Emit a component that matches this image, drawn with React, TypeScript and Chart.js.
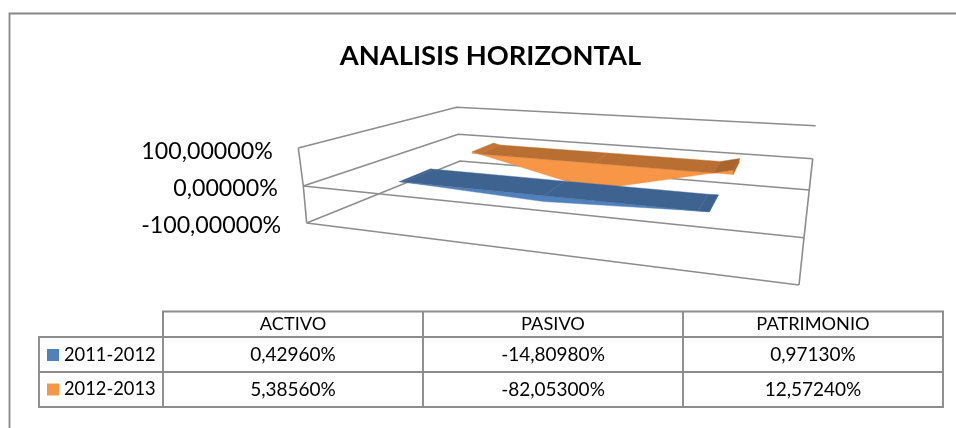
import React, { useEffect, useRef } from "react";
import { Chart, registerables } from "chart.js";

Chart.register(...registerables);

const categories = ["ACTIVO", "PASIVO", "PATRIMONIO"];
const seriesNames = ["2011-2012", "2012-2013"];
const values2011 = [0.4296, -14.8098, 0.9713];
const values2012 = [5.3856, -82.053, 12.5724];
const axisMin = -100;
const axisMax = 100;
const axisStep = 100;

const FONT = "Lato";
const GRID = "#8c8c8c";
const lightColors = ["#4F81BD", "#F79646"];
const topColors = ["#3E6391", "#B96F32"];
const foldColors = ["#3D618F", "#A9652D"];
const fallColors = ["#3F6493", "#C47635"];

// Camera: where the corners of the 3D box land (front-left, front-right, back-right, back-left)
type P = [number, number];
const planeHigh: P[] = [[298.3, 148], [809, 190.4], [815.7, 125.7], [456.7, 107.3]];
const planeZero: P[] = [[303.3, 186], [804, 237.7], [812.7, 158.7], [458.3, 134.3]];
const planeLow: P[] = [[306.7, 223], [799, 285], [809.3, 190], [460, 161]];
// Extent of each series inside the box: along the categories and in depth
const seriesX = [[0.137, 0.795], [0.145, 0.805]];
const seriesZ = [[0.205, 0.435], [0.72, 0.88]];
const foreshorten = 1.15;

const pct = (v: number) => v.toFixed(5).replace(".", ",") + "%";

function bilerp(pl: P[], x: number, z: number): P {
  const fx = pl[0][0] + (pl[1][0] - pl[0][0]) * x;
  const fy = pl[0][1] + (pl[1][1] - pl[0][1]) * x;
  const bx = pl[3][0] + (pl[2][0] - pl[3][0]) * x;
  const by = pl[3][1] + (pl[2][1] - pl[3][1]) * x;
  return [fx + (bx - fx) * z, fy + (by - fy) * z];
}

function project(x: number, z: number, h: number): P {
  const a = h >= 0.5 ? planeZero : planeLow;
  const b = h >= 0.5 ? planeHigh : planeZero;
  const s = h >= 0.5 ? (h - 0.5) * 2 : h * 2;
  const pa = bilerp(a, x, z);
  const pb = bilerp(b, x, z);
  return [pa[0] + (pb[0] - pa[0]) * s, pa[1] + (pb[1] - pa[1]) * s];
}

function poly(ctx: CanvasRenderingContext2D, pts: P[], color: string) {
  ctx.beginPath();
  pts.forEach((p, i) => (i ? ctx.lineTo(p[0], p[1]) : ctx.moveTo(p[0], p[1])));
  ctx.closePath();
  ctx.fillStyle = color;
  ctx.strokeStyle = color;
  ctx.lineWidth = 0.4;
  ctx.fill();
  ctx.stroke();
}

function line(ctx: CanvasRenderingContext2D, pts: P[]) {
  ctx.beginPath();
  pts.forEach((p, i) => (i ? ctx.lineTo(p[0], p[1]) : ctx.moveTo(p[0], p[1])));
  ctx.stroke();
}

const drawBox = (chart: any) => {
  const ctx = chart.ctx as CanvasRenderingContext2D;
  ctx.save();
  ctx.strokeStyle = "#868686";
  ctx.lineWidth = 1.8;
  line(ctx, [[9.5, 428], [9.5, 13.5], [956, 13.5]]);
  ctx.strokeStyle = GRID;
  ctx.lineWidth = 1.6;
  for (const pl of [planeHigh, planeZero, planeLow]) line(ctx, [pl[0], pl[3], pl[2]]);
  line(ctx, [planeHigh[0], planeZero[0], planeLow[0]]);
  line(ctx, [planeZero[0], planeZero[1]]);
  line(ctx, [planeLow[0], planeLow[1]]);
  line(ctx, [planeZero[2], planeZero[1], planeLow[1]]);
  // value axis labels
  const yS = chart.scales.y;
  ctx.fillStyle = "#000";
  ctx.font = `23.2px ${FONT}`;
  ctx.textAlign = "right";
  ctx.textBaseline = "middle";
  yS.ticks.forEach((tick: any) => {
    const py = yS.getPixelForValue(tick.value);
    const h = (chart.chartArea.bottom - py) / chart.chartArea.height;
    const corner = project(0, 0, h);
    ctx.fillText(pct(tick.value), corner[0] - 25.5, py + 1.5);
  });
  ctx.restore();
};

const drawSeries = (chart: any, i: number) => {
  const ctx = chart.ctx as CanvasRenderingContext2D;
  const { left, width, bottom, height } = chart.chartArea;
  const base = (bottom - chart.scales.y.getPixelForValue(0)) / height;
  const [x0, x1] = seriesX[i];
  const [z0, z1] = seriesZ[i];
  const mapX = (t: number) => {
    const u = (t - 1 / 6) / (2 / 3);
    return x0 + (x1 - x0) * (u / (u + foreshorten * (1 - u)));
  };
  const raw = chart.getDatasetMeta(i).data.map((p: any) => ({
    t: (p.x - left) / width,
    h: (bottom - p.y) / height,
  }));
  const prof: { t: number; h: number }[] = [];
  raw.forEach((p: any, k: number) => {
    if (k) {
      const q = raw[k - 1];
      if ((q.h - base) * (p.h - base) < 0) {
        const f = (base - q.h) / (p.h - q.h);
        prof.push({ t: q.t + (p.t - q.t) * f, h: base });
      }
    }
    prof.push(p);
  });
  const front: P[] = prof.map((p) => project(mapX(p.t), z0, p.h));
  front.push(project(mapX(prof[prof.length - 1].t), z0, base));
  front.push(project(mapX(prof[0].t), z0, base));
  poly(ctx, front, lightColors[i]);
  for (let k = 1; k < prof.length; k++) {
    const a = prof[k - 1];
    const b = prof[k];
    const ha = Math.max(a.h, base);
    const hb = Math.max(b.h, base);
    const color = hb > ha + 1e-6 ? foldColors[i] : ha > hb + 1e-6 ? fallColors[i] : topColors[i];
    poly(
      ctx,
      [
        project(mapX(a.t), z0, ha),
        project(mapX(b.t), z0, hb),
        project(mapX(b.t), z1, hb),
        project(mapX(a.t), z1, ha),
      ],
      color
    );
  }
  const last = prof[prof.length - 1];
  if (last.h > base) {
    const lx = mapX(last.t);
    poly(
      ctx,
      [project(lx, z0, last.h), project(lx, z1, last.h), project(lx, z1, base), project(lx, z0, base)],
      foldColors[i]
    );
  }
};

const drawTable = (chart: any) => {
  const ctx = chart.ctx as CanvasRenderingContext2D;
  const xS = chart.scales.x;
  const { left, right } = chart.chartArea;
  const colW = (right - left) / categories.length;
  const rows = [311.5, 337, 372, 407];
  const keyLeft = 39;
  ctx.save();
  ctx.strokeStyle = GRID;
  ctx.lineWidth = 1.9;
  line(ctx, [[left, rows[1]], [left, rows[0]], [right, rows[0]], [right, rows[3]], [keyLeft, rows[3]], [keyLeft, rows[1]], [right, rows[1]]]);
  line(ctx, [[keyLeft, rows[2]], [right, rows[2]]]);
  for (let c = 0; c < categories.length; c++) {
    line(ctx, [[left + c * colW, rows[0]], [left + c * colW, rows[3]]]);
  }
  ctx.fillStyle = "#000";
  ctx.textAlign = "center";
  ctx.textBaseline = "middle";
  const cols = [values2011, values2012];
  categories.forEach((c, k) => {
    const cx = xS.getPixelForValue(k);
    ctx.font = `18.2px ${FONT}`;
    ctx.fillText(c, cx, 324.5);
    ctx.font = `19px ${FONT}`;
    cols.forEach((vals, r) => ctx.fillText(pct(vals[k]), cx, 355 + r * 34.5));
  });
  ctx.textAlign = "left";
  ctx.font = `18.3px ${FONT}`;
  seriesNames.forEach((n, r) => {
    const cy = 355 + r * 34.5;
    ctx.fillStyle = lightColors[r];
    ctx.fillRect(47, cy - 6, 12, 12);
    ctx.fillStyle = "#000";
    ctx.fillText(n, 64, cy);
  });
  ctx.restore();
};

const area3d = {
  id: "area3d",
  afterLayout(chart: any) {
    if (chart.titleBlock) {
      chart.titleBlock.left = 25;
      chart.titleBlock.right = 956;
    }
  },
  beforeDatasetsDraw(chart: any) {
    drawBox(chart);
  },
  afterDatasetsDraw(chart: any) {
    drawSeries(chart, 1);
    drawSeries(chart, 0);
    drawTable(chart);
  },
};

export default function App() {
  const ref = useRef<HTMLCanvasElement | null>(null);
  useEffect(() => {
    document.body.style.margin = "0";
    const chart = new Chart(ref.current as HTMLCanvasElement, {
      type: "line",
      data: {
        labels: categories,
        datasets: [
          { label: seriesNames[0], data: values2011, showLine: false, pointRadius: 0, borderColor: lightColors[0], backgroundColor: lightColors[0] },
          { label: seriesNames[1], data: values2012, showLine: false, pointRadius: 0, borderColor: lightColors[1], backgroundColor: lightColors[1] },
        ],
      },
      options: {
        responsive: false,
        animation: false,
        layout: { padding: { left: 163, right: 13, top: 0, bottom: 204 } },
        plugins: {
          legend: { display: false },
          tooltip: { enabled: false },
          title: {
            display: true,
            text: "ANALISIS HORIZONTAL",
            color: "#000",
            font: { family: FONT, size: 27.3, weight: "bold", lineHeight: 1.2 },
            padding: { top: 40, bottom: 77.24 },
          },
        },
        scales: {
          x: { type: "category", display: false, offset: true },
          y: { type: "linear", display: false, min: axisMin, max: axisMax, ticks: { stepSize: axisStep } },
        },
      },
      plugins: [area3d],
    } as any);
    return () => chart.destroy();
  }, []);
  return <canvas ref={ref} width={956} height={428} style={{ display: "block", filter: "blur(0.45px)" }} />;
}
